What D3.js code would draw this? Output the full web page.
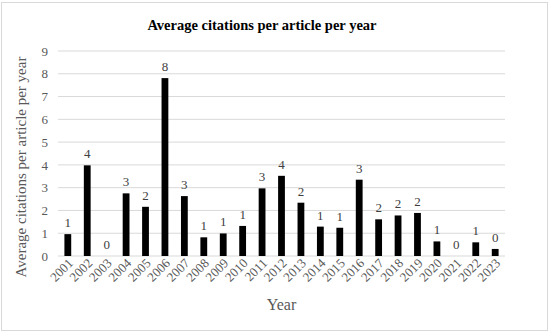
<!DOCTYPE html>
<html>
<head>
<meta charset="utf-8">
<script src="https://cdn.jsdelivr.net/npm/d3@7"></script>
<style>
    body { margin: 0; background: #fff; }
</style>
</head>
<body>
<div id="chart"></div>
<script>
'use strict';

const years = ["2001", "2002", "2003", "2004", "2005", "2006", "2007", "2008", "2009", "2010", "2011", "2012",
    "2013", "2014", "2015", "2016", "2017", "2018", "2019", "2020", "2021", "2022", "2023"];
const citations = [0.96, 3.98, 0, 2.75, 2.16, 7.81, 2.63, 0.82, 0.99, 1.32, 2.97, 3.52,
    2.34, 1.29, 1.24, 3.35, 1.61, 1.78, 1.89, 0.64, 0, 0.60, 0.31];
const yTicks = [0, 1, 2, 3, 4, 5, 6, 7, 8, 9];

const FONT = "'Liberation Serif', 'Times New Roman', Times, serif";

const W = 550, H = 333;
const margin = { top: 51, right: 45, bottom: 77, left: 58 };
const width = W - margin.left - margin.right;
const height = H - margin.top - margin.bottom;

const data = years.map((y, i) => ({ year: y, value: citations[i] }));

const svg = d3.select("#chart")
    .append("svg")
    .attr("width", W)
    .attr("height", H)
    .style("font-family", FONT);

// outer frame
svg.append("rect")
    .attr("x", 1.5).attr("y", 2.5)
    .attr("width", W - 4).attr("height", H - 5)
    .attr("fill", "#fff")
    .attr("stroke", "#d9d9d9");

const g = svg.append("g")
    .attr("transform", "translate(" + margin.left + "," + margin.top + ")");

const x = d3.scaleBand()
    .domain(years)
    .range([0, width])
    .paddingInner(0.65)
    .paddingOuter(0.33);

const y = d3.scaleLinear()
    .domain([0, 9])
    .range([height, 0]);

// gridlines
g.append("g")
    .selectAll("line")
    .data(yTicks)
    .join("line")
    .attr("x1", 0).attr("x2", width)
    .attr("y1", d => y(d)).attr("y2", d => y(d))
    .attr("stroke", "#d9d9d9")
    .attr("stroke-width", 1);

// y axis labels
const yAxis = g.append("g")
    .attr("transform", "translate(-10,0)")
    .call(d3.axisLeft(y).tickValues(yTicks).tickSize(0).tickPadding(0));
yAxis.attr("font-family", null).attr("font-size", null);
yAxis.select(".domain").remove();
yAxis.selectAll("text")
    .attr("fill", "#595959")
    .style("font-family", FONT)
    .style("font-size", "13px");

// x axis labels
const xAxis = g.append("g")
    .attr("transform", "translate(0," + height + ")")
    .call(d3.axisBottom(x).tickSize(0).tickPadding(0));
xAxis.attr("font-family", null).attr("font-size", null);
xAxis.select(".domain").remove();
xAxis.selectAll("text")
    .attr("fill", "#595959")
    .style("font-family", FONT)
    .style("font-size", "13px")
    .style("text-anchor", "end")
    .attr("dy", 0)
    .attr("transform", "translate(6,8) rotate(-45)");

// bars
g.selectAll(".bar")
    .data(data)
    .join("rect")
    .attr("class", "bar")
    .attr("x", d => x(d.year))
    .attr("y", d => y(d.value))
    .attr("width", x.bandwidth())
    .attr("height", d => height - y(d.value))
    .attr("fill", "#000");

// value labels
g.selectAll(".val")
    .data(data)
    .join("text")
    .attr("class", "val")
    .attr("x", d => x(d.year) + x.bandwidth() / 2)
    .attr("y", d => y(d.value) - 7)
    .attr("text-anchor", "middle")
    .attr("fill", "#404040")
    .style("font-family", FONT)
    .style("font-size", "13px")
    .text(d => d3.format(".0f")(d.value));

// title
svg.append("text")
    .attr("x", 262)
    .attr("y", 30)
    .attr("text-anchor", "middle")
    .style("font-family", FONT)
    .style("font-size", "14.5px")
    .style("font-weight", "bold")
    .text("Average citations per article per year");

// axis titles
svg.append("text")
    .attr("x", margin.left + width / 2)
    .attr("y", 310)
    .attr("text-anchor", "middle")
    .attr("fill", "#595959")
    .style("font-family", FONT)
    .style("font-size", "16px")
    .text("Year");

svg.append("text")
    .attr("transform", "translate(26," + 167 + ") rotate(-90)")
    .attr("text-anchor", "middle")
    .attr("fill", "#595959")
    .style("font-family", FONT)
    .style("font-size", "15px")
    .text("Average citations per article per year");
</script>
</body>
</html>
